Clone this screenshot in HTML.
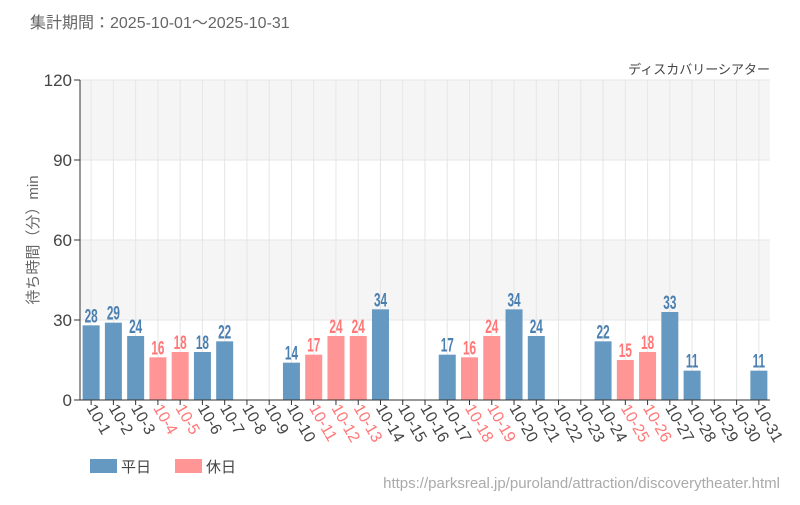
<!DOCTYPE html>
<html><head><meta charset="utf-8"><style>
body{margin:0;background:#fff;font-family:"Liberation Sans","Noto Sans CJK JP",sans-serif}
svg text{font-family:"Liberation Sans","Noto Sans CJK JP",sans-serif}
</style></head><body>
<svg id="c" width="800" height="500">
<text x="30" y="28" font-size="16" fill="#666">集計期間：2025-10-01～2025-10-31</text>
<text x="770" y="74" font-size="13" fill="#444" text-anchor="end">ディスカバリーシアター</text>
<text transform="translate(38,240) rotate(-90)" font-size="15" fill="#666" text-anchor="middle">待ち時間（分）min</text>
<g id="plot"></g>
<rect x="90" y="459" width="27" height="14" fill="#6699c2"/>
<text x="121" y="472" font-size="15" fill="#444">平日</text>
<rect x="175" y="459" width="27" height="14" fill="#ff9595"/>
<text x="206" y="472" font-size="15" fill="#444">休日</text>
<text x="780" y="488" font-size="15" fill="#aaa" text-anchor="end">https://parksreal.jp/puroland/attraction/discoverytheater.html</text>
</svg>
<script>
const categories=["10-1","10-2","10-3","10-4","10-5","10-6","10-7","10-8","10-9","10-10","10-11","10-12","10-13","10-14","10-15","10-16","10-17","10-18","10-19","10-20","10-21","10-22","10-23","10-24","10-25","10-26","10-27","10-28","10-29","10-30","10-31"];
const values=[28,29,24,16,18,18,22,0,0,14,17,24,24,34,0,0,17,16,24,34,24,0,0,22,15,18,33,11,0,0,11];
const holidays=[0,0,0,1,1,0,0,0,0,0,1,1,1,0,0,0,0,1,1,0,0,0,0,0,1,1,0,0,0,0,0];
const yTicks=[0,30,60,90,120];
const X0=80,X1=770,Y0=400,Y1=80,YMAX=120;
const bw=(X1-X0)/categories.length;
const xc=i=>X0+(i+0.5)*bw;
const y=v=>Y0-(v/YMAX)*(Y0-Y1);
const g=document.getElementById('plot');
const NS='http://www.w3.org/2000/svg';
function mk(t,a){const e=document.createElementNS(NS,t);for(const k in a)e.setAttribute(k,a[k]);g.appendChild(e);return e;}
for(let k=0;k<yTicks.length-1;k++){
 const r=mk('rect',{x:X0,y:y(yTicks[k+1]),width:X1-X0,height:y(yTicks[k])-y(yTicks[k+1]),fill:k%2?'#f5f5f5':'#fff'});
 
 
}
categories.forEach((c,i)=>{
 const l=mk('line',{x1:xc(i),x2:xc(i),y1:Y1,y2:Y0,stroke:'#e6e6e6'});
 
 
});
yTicks.forEach(t=>{
 const l=mk('line',{x1:X0,x2:X1,y1:y(t),y2:y(t),stroke:'#e6e6e6'});
 
 
 const tk=mk('line',{x1:X0-6,x2:X0,y1:y(t),y2:y(t),stroke:'#333'});
 
 
 const tx=mk('text',{x:X0-8,y:y(t)+6,'font-size':17,fill:'#444','text-anchor':'end'});
 tx.textContent=t;
 
 
});
values.forEach((v,i)=>{
 const col=holidays[i]?'#ff9595':'#6699c2';
 const lc=holidays[i]?'#f77':'#4a7fb0';
 if(v>0){
  const r=mk('rect',{x:xc(i)-8.5,y:y(v),width:17,height:Y0-y(v),fill:col});
  
  
  const t=mk('text',{transform:`translate(${xc(i)},${y(v)-3}) scale(0.62,1)`,'font-size':19,'font-weight':'bold',fill:lc,'text-anchor':'middle'});
  t.textContent=v;
  
  
 }
 const tk=mk('line',{x1:xc(i),x2:xc(i),y1:Y0,y2:Y0+5,stroke:'#333'});
 
 
 const t=mk('text',{transform:`translate(${xc(i)-5},${Y0+8}) rotate(60)`,'font-size':16,fill:holidays[i]?'#f77':'#444'});
 t.textContent=categories[i];
 
 
});
const ax=mk('line',{x1:X0,x2:X1,y1:Y0,y2:Y0,stroke:'#333'});


const ay=mk('line',{x1:X0,x2:X0,y1:Y1,y2:Y0,stroke:'#333'});


</script>
</body></html>
